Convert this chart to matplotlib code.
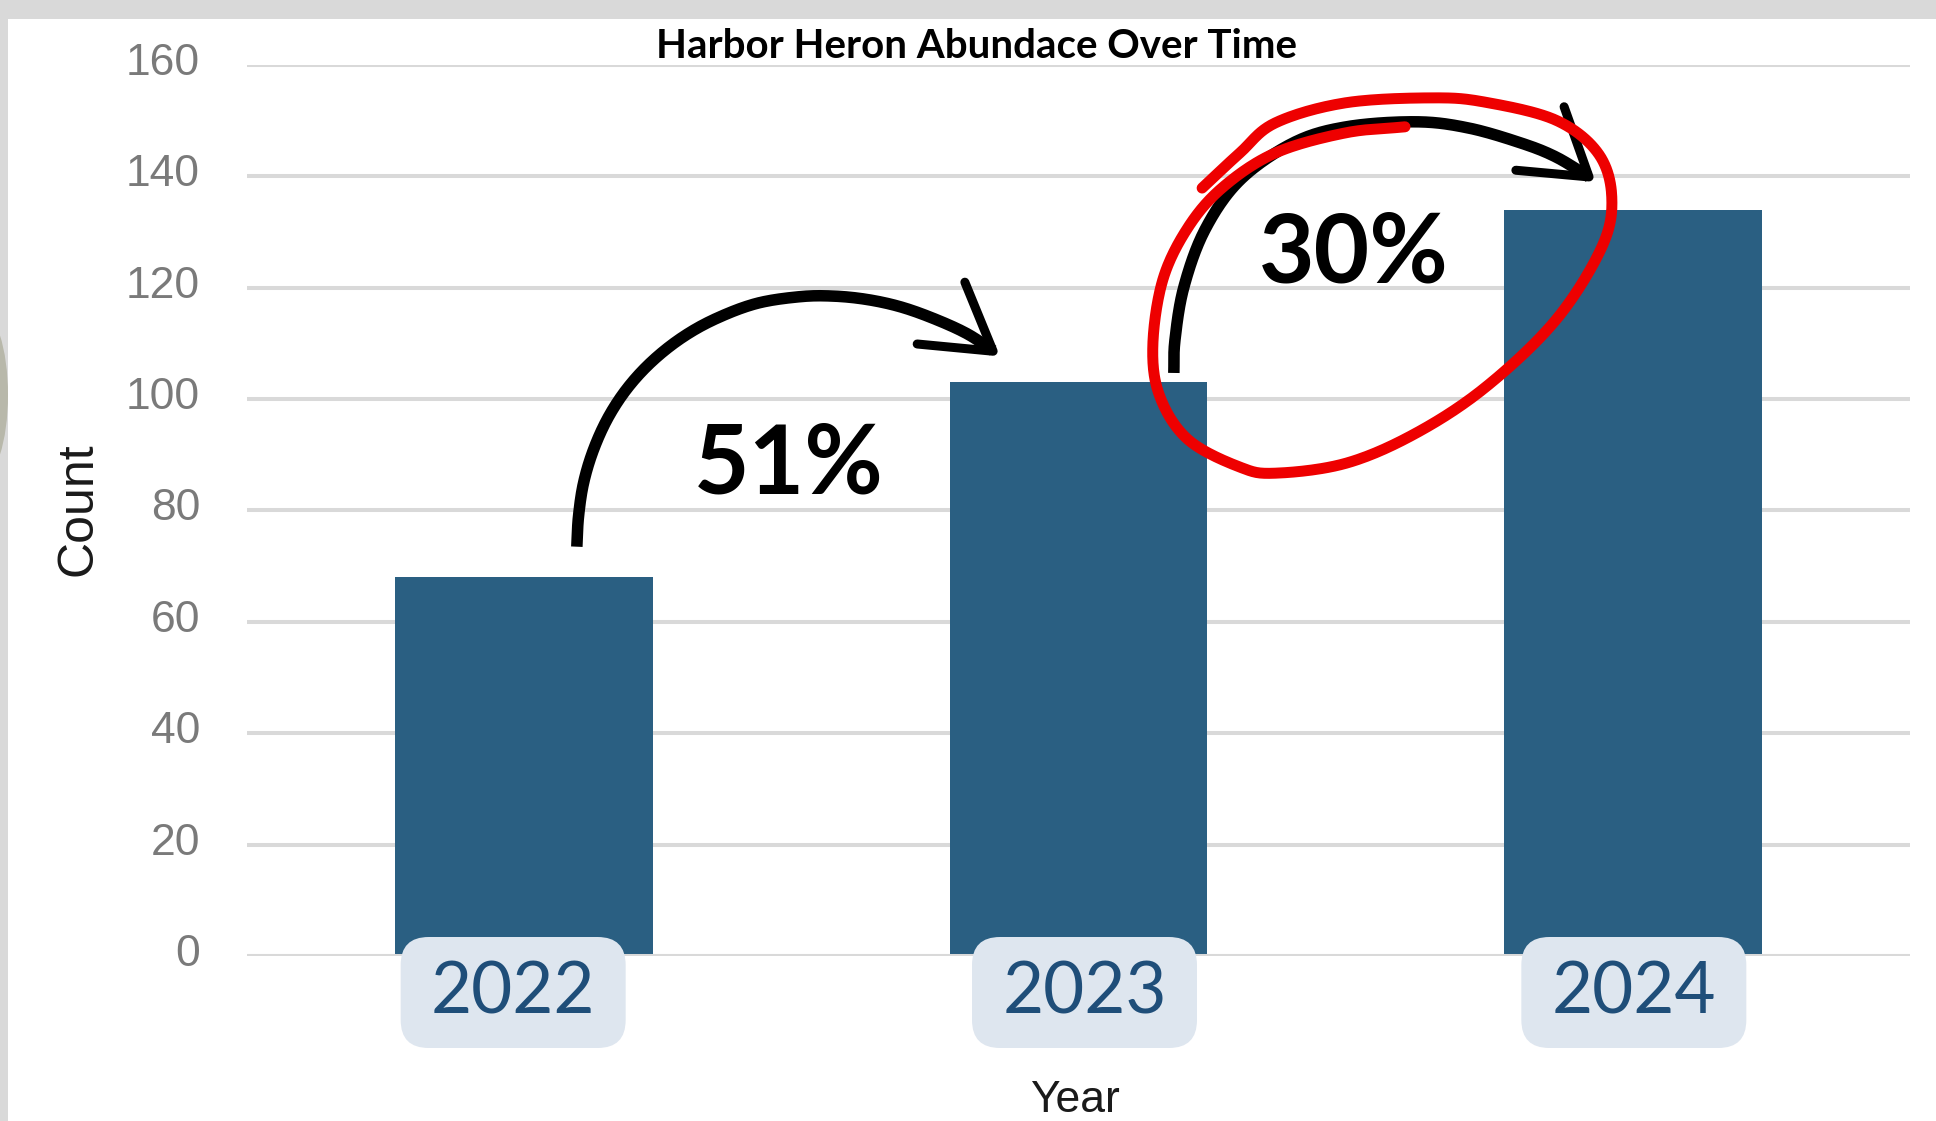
import numpy as np
import matplotlib
matplotlib.use("Agg")
import matplotlib.pyplot as plt
from matplotlib.patches import FancyBboxPatch, Ellipse, Rectangle
from matplotlib.transforms import ScaledTranslation, IdentityTransform

# ---------------- data ----------------
years = ["2022", "2023", "2024"]
counts = [68, 103, 134]
yticks = [0, 20, 40, 60, 80, 100, 120, 140, 160]
title = "Harbor Heron Abundace Over Time"
xlabel = "Year"
ylabel = "Count"

# ---------------- annotation geometry (data coords: category x, count y) ----------------
arrow1 = [(0.095, 73.5), (0.098, 78.9), (0.107, 84.9), (0.125, 90.9), (0.152, 96.8),
          (0.188, 102.2), (0.233, 107.0), (0.287, 111.2), (0.347, 114.5), (0.420, 117.2),
          (0.498, 118.4), (0.558, 118.5), (0.618, 117.9), (0.678, 116.6), (0.738, 114.5),
          (0.798, 111.8), (0.846, 108.7)]
head1 = [(0.795, 121.0), (0.846, 108.6), (0.709, 109.9)]
arrow2 = [(1.172, 104.7), (1.174, 110.6), (1.190, 120.1), (1.228, 130.4), (1.291, 139.3),
          (1.387, 146.0), (1.483, 148.9), (1.609, 149.8), (1.703, 148.7), (1.798, 146.0),
          (1.861, 143.5), (1.921, 139.9)]
head2 = [(1.876, 152.5), (1.921, 139.9), (1.789, 141.1)]
loop = [(1.589, 148.9), (1.481, 147.8), (1.355, 144.2), (1.261, 138.1), (1.198, 130.9),
        (1.152, 121.4), (1.134, 109.4), (1.147, 100.4), (1.198, 92.7), (1.291, 87.8),
        (1.355, 86.7), (1.483, 88.5), (1.609, 93.9), (1.735, 102.2), (1.861, 114.2),
        (1.944, 127.3), (1.962, 136.3), (1.937, 144.2), (1.861, 150.1), (1.735, 153.3),
        (1.640, 154.1), (1.481, 153.2), (1.355, 149.6), (1.291, 144.2), (1.223, 137.9)]
pct_pos = [(0.478, 83.0), (1.497, 121.0)]
label_dx_px = [-11, 6, 1]

W, H, DPI = 1936, 1121, 100
plt.rcParams["font.family"] = ["Liberation Sans", "DejaVu Sans"]

fig = plt.figure(figsize=(W / DPI, H / DPI), dpi=DPI)
fig.patch.set_facecolor("white")


def fx(px):
    return px / W


def fy(py):
    return 1 - py / H


def catmull(points, n=24):
    P = np.asarray(points, float)
    P = np.vstack([2 * P[0] - P[1], P, 2 * P[-1] - P[-2]])
    out = []
    t = np.linspace(0, 1, n, endpoint=False)[:, None]
    for i in range(1, len(P) - 2):
        p0, p1, p2, p3 = P[i - 1], P[i], P[i + 1], P[i + 2]
        seg = 0.5 * ((2 * p1) + (-p0 + p2) * t + (2 * p0 - 5 * p1 + 4 * p2 - p3) * t ** 2
                     + (-p0 + 3 * p1 - 3 * p2 + p3) * t ** 3)
        out.append(seg)
    out.append(P[-2][None, :])
    return np.vstack(out)


ax = fig.add_axes([fx(247), fy(956), (1910 - 247) / W, (956 - 65) / H])
x = np.arange(len(years))
ax.bar(x, counts, width=0.465, color="#2a5f82", zorder=2)
ax.set_xlim(-0.5, 2.5)
ax.set_ylim(0, 160)
ax.set_yticks(yticks)
ax.set_xticks([])
for s in ax.spines.values():
    s.set_visible(False)
ax.set_axisbelow(True)
ax.grid(axis="y", color="#d9d9d9", lw=2.9)
ax.axhline(0, color="#d9d9d9", lw=2.9, zorder=3)
ax.tick_params(axis="y", length=0, pad=33.8, labelsize=32, labelcolor="#7a7a7a")
shift = ScaledTranslation(0, 6 / DPI, fig.dpi_scale_trans)
for lbl in ax.get_yticklabels():
    lbl.set_transform(lbl.get_transform() + shift)

# arrows
for pts, head in [(arrow1, head1), (arrow2, head2)]:
    c = catmull(pts)
    ax.plot(c[:, 0], c[:, 1], color="black", lw=8.3, solid_capstyle="butt", zorder=4, clip_on=False)
    hx, hy = zip(*head)
    ax.plot(hx, hy, color="black", lw=6.5, solid_capstyle="round", solid_joinstyle="round",
            zorder=4, clip_on=False)

c = catmull(loop)
ax.plot(c[:, 0], c[:, 1], color="#ee0000", lw=7.9, solid_capstyle="round",
        solid_joinstyle="round", zorder=5, clip_on=False)

# percent change labels
for i, (px_, py_) in enumerate(pct_pos):
    pct = round((counts[i + 1] - counts[i]) / counts[i] * 100)
    ax.text(px_, py_, f"{pct}%", ha="center", va="baseline", fontsize=69,
            fontweight="bold", family=["Lato", "DejaVu Sans"], color="black", zorder=6)

# year label boxes
for i, yr in enumerate(years):
    cx, _ = ax.transData.transform((x[i], 0))
    cx += label_dx_px[i]
    cy = H - 992.5
    box = FancyBboxPatch((cx - 112.5, cy - 55.5), 225, 111,
                         boxstyle="round,pad=0,rounding_size=28",
                         fc="#dee6ef", ec="none", transform=IdentityTransform(), zorder=5)
    fig.add_artist(box)
    fig.text(cx / W, fy(1013), yr, ha="center", va="baseline", fontsize=51,
             family=["Lato", "DejaVu Sans"], color="#1f4e79", zorder=6)

# titles
fig.text(fx(976), fy(58), title, ha="center", va="baseline", fontsize=29,
         fontweight="bold", family=["Lato", "DejaVu Sans"], color="black")
fig.text(fx(79), fy(509), ylabel, rotation=90, ha="center", va="center", fontsize=36,
         color="#1a1a1a")
fig.text(fx(1075), fy(1112), xlabel, ha="center", va="baseline", fontsize=32,
         color="#1a1a1a")

# frame
fig.add_artist(Rectangle((0, H - 19), W, 19, fc="#d9d9d9", ec="none",
                         transform=IdentityTransform(), zorder=10))
fig.add_artist(Rectangle((0, 0), 8, H, fc="#d9d9d9", ec="none",
                         transform=IdentityTransform(), zorder=10))
fig.add_artist(Ellipse((-20, H - 395), 56, 170, fc="#b8b8aa", ec="none",
                       transform=IdentityTransform(), zorder=11))

fig.savefig("out.png", dpi=DPI)
